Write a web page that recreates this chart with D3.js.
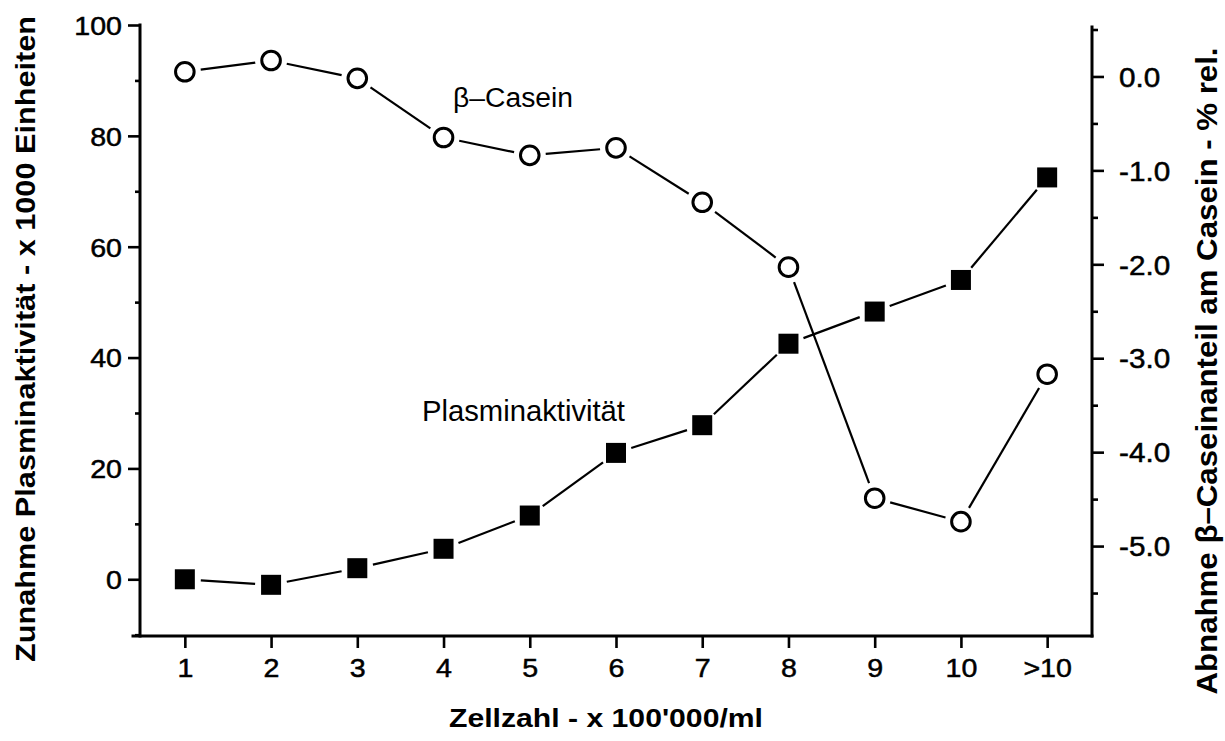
<!DOCTYPE html>
<html>
<head>
<meta charset="utf-8">
<script src="https://cdn.jsdelivr.net/npm/d3@7/dist/d3.min.js"></script>
<style>
  html, body { margin: 0; padding: 0; background: #fff; }
  svg { display: block; }
  text { font-family: "Liberation Sans", Arial, sans-serif; fill: #000; }
  .tick text { stroke: #000; stroke-width: 0.5px; }
  .title { font-family: "Liberation Sans Narrow", "Liberation Sans", Arial, sans-serif; font-weight: bold; }
</style>
</head>
<body>
<svg id="chart" width="1225" height="741"></svg>
<script>
// Cell count classes (x 100'000/ml)
const categories = ["1", "2", "3", "4", "5", "6", "7", "8", "9", "10", ">10"];
// Increase in plasmin activity (x 1000 units), left axis
const plasmin = [0, -1, 2, 5.5, 11.5, 22.8, 27.8, 42.5, 48.3, 54, 72.5];
// Decrease of beta-casein share in casein (% rel.), right axis
const casein = [0.05, 0.17, -0.02, -0.65, -0.84, -0.76, -1.34, -2.03, -4.49, -4.74, -3.17];

const leftTicks = [0, 20, 40, 60, 80, 100];
const leftMinor = [-10, 10, 30, 50, 70, 90];
const rightTicks = [0, -1, -2, -3, -4, -5];
const rightMinor = [0.5, -0.5, -1.5, -2.5, -3.5, -4.5, -5.5];

const svg = d3.select("#chart");

const xLeft = 140, xRight = 1092, yTop = 25, yBottom = 636;

const x = d3.scalePoint().domain(categories).range([xLeft, xRight]).padding(0.52);
const yL = d3.scaleLinear().domain([-10, 100]).range([634.7, 25]);
const yR = d3.scaleLinear().domain([-6, 0.5]).range([640, 29.5]);

const stretch = (sel, f) => sel.each(function () {
  const w = this.getComputedTextLength();
  if (w > 0) d3.select(this).attr("textLength", w * f).attr("lengthAdjust", "spacingAndGlyphs");
});

// Frame lines
const frame = svg.append("g").attr("stroke", "#000").attr("stroke-width", 3).attr("stroke-linecap", "square");
frame.append("line").attr("x1", xLeft).attr("x2", xLeft).attr("y1", yTop).attr("y2", yBottom);
frame.append("line").attr("x1", xRight).attr("x2", xRight).attr("y1", 27).attr("y2", yBottom);
frame.append("line").attr("x1", 133).attr("x2", xRight).attr("y1", yBottom).attr("y2", yBottom);

// Left axis: labelled major ticks, then short unlabelled minor ticks
const gL = svg.append("g").attr("transform", `translate(${xLeft},0)`);
const gLmaj = gL.append("g")
  .call(d3.axisLeft(yL).tickValues(leftTicks).tickSize(12).tickSizeOuter(0).tickPadding(6));
gLmaj.selectAll("text").attr("font-size", 26).attr("font-family", "Liberation Sans, Arial, sans-serif")
  .attr("dy", "0.36em").call(stretch, 1.1);
gL.append("g").call(d3.axisLeft(yL).tickValues(leftMinor).tickSize(5).tickSizeOuter(0).tickFormat(""));
gL.selectAll(".domain").remove();
gL.selectAll("line").attr("stroke-width", 2.6);

// Right axis
const gR = svg.append("g").attr("transform", `translate(${xRight},0)`);
const gRmaj = gR.append("g")
  .call(d3.axisRight(yR).tickValues(rightTicks).tickSize(12).tickSizeOuter(0).tickPadding(15)
    .tickFormat(d => d3.format(".1f")(d).replace("−", "-")));
gRmaj.selectAll("text").attr("font-size", 27).attr("font-family", "Liberation Sans, Arial, sans-serif")
  .attr("dy", "0.36em").call(stretch, 1.1);
gR.append("g").call(d3.axisRight(yR).tickValues(rightMinor).tickSize(6).tickSizeOuter(0).tickFormat(""));
gR.selectAll(".domain").remove();
gR.selectAll("line").attr("stroke-width", 2.6);

// Bottom axis
const gB = svg.append("g").attr("transform", `translate(0,${yBottom})`);
gB.call(d3.axisBottom(x).tickSize(12).tickSizeOuter(0).tickPadding(11));
gB.selectAll(".domain").remove();
gB.selectAll("line").attr("stroke-width", 2.6);
gB.selectAll("text").attr("font-size", 26).attr("font-family", "Liberation Sans, Arial, sans-serif")
  .call(stretch, 1.1);

// Connecting segments that stop short of the markers
function segments(values, scale) {
  const pts = values.map((v, i) => [x(categories[i]), scale(v)]);
  const out = [];
  const gap = 16;
  for (let i = 0; i < pts.length - 1; i++) {
    const [x1, y1] = pts[i], [x2, y2] = pts[i + 1];
    const len = Math.hypot(x2 - x1, y2 - y1);
    const ux = (x2 - x1) / len, uy = (y2 - y1) / len;
    out.push([x1 + ux * gap, y1 + uy * gap, x2 - ux * gap, y2 - uy * gap]);
  }
  return out;
}

const lines = svg.append("g").attr("stroke", "#000").attr("stroke-width", 2.2);
lines.selectAll(".segP").data(segments(plasmin, yL)).join("line").attr("class", "segP")
  .attr("x1", d => d[0]).attr("y1", d => d[1]).attr("x2", d => d[2]).attr("y2", d => d[3]);
lines.selectAll(".segC").data(segments(casein, yR)).join("line").attr("class", "segC")
  .attr("x1", d => d[0]).attr("y1", d => d[1]).attr("x2", d => d[2]).attr("y2", d => d[3]);

// Plasmin activity: filled squares
const s = 20;
svg.append("g").selectAll("rect").data(plasmin).join("rect")
  .attr("x", (d, i) => x(categories[i]) - s / 2)
  .attr("y", d => yL(d) - s / 2)
  .attr("width", s).attr("height", s).attr("fill", "#000");

// Beta-casein: open circles
svg.append("g").selectAll("circle").data(casein).join("circle")
  .attr("cx", (d, i) => x(categories[i]))
  .attr("cy", d => yR(d))
  .attr("r", 9.3).attr("fill", "#fff").attr("stroke", "#000").attr("stroke-width", 3);

// Series labels
svg.append("text").attr("x", 453).attr("y", 107).attr("font-size", 27)
  .attr("textLength", 120).attr("lengthAdjust", "spacingAndGlyphs").text("β–Casein");
svg.append("text").attr("x", 422).attr("y", 421).attr("font-size", 29)
  .attr("textLength", 203).attr("lengthAdjust", "spacingAndGlyphs").text("Plasminaktivität");

// Axis titles
svg.append("text").attr("class", "title").attr("transform", "translate(35,339) rotate(-90)")
  .attr("text-anchor", "middle").attr("font-size", 28)
  .attr("textLength", 646).attr("lengthAdjust", "spacingAndGlyphs")
  .text("Zunahme Plasminaktivität - x 1000 Einheiten");
svg.append("text").attr("class", "title").attr("transform", "translate(1217,371) rotate(-90)")
  .attr("text-anchor", "middle").attr("font-size", 29)
  .attr("textLength", 647).attr("lengthAdjust", "spacingAndGlyphs")
  .text("Abnahme β–Caseinanteil am Casein - % rel.");
svg.append("text").attr("class", "title").attr("x", 606).attr("y", 727)
  .attr("text-anchor", "middle").attr("font-size", 26)
  .attr("textLength", 314).attr("lengthAdjust", "spacingAndGlyphs")
  .text("Zellzahl - x 100'000/ml");
</script>
</body>
</html>
